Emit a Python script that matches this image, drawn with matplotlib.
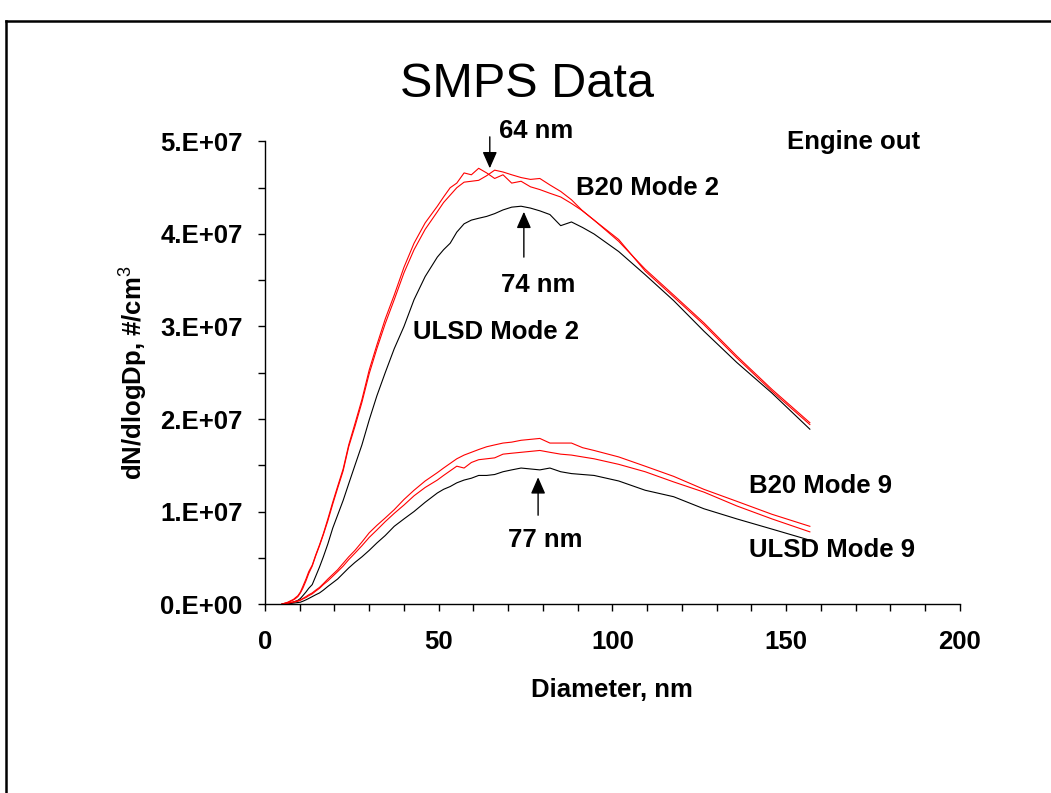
import numpy as np
import matplotlib
matplotlib.use("Agg")
import matplotlib.pyplot as plt
from matplotlib.lines import Line2D
from matplotlib.ticker import MultipleLocator

plt.rcParams['font.family'] = ['Liberation Sans', 'DejaVu Sans']
plt.rcParams['mathtext.fontset'] = 'custom'
plt.rcParams['mathtext.rm'] = 'Liberation Sans'
plt.rcParams['mathtext.bf'] = 'Liberation Sans:bold'

# SMPS channel midpoints, nm
diameter = [4.96, 5.33, 5.73, 6.15, 6.61, 7.09, 7.64, 8.20, 8.82, 9.47,
            10.2, 10.9, 11.8, 12.6, 13.6, 14.6, 15.7, 16.8, 18.1, 19.5,
            20.9, 22.5, 24.1, 25.9, 27.9, 30.0, 32.2, 34.6, 37.2, 40.0,
            42.9, 46.1, 49.6, 51.4, 53.3, 55.2, 57.3, 59.4, 61.5, 63.8,
            66.1, 68.5, 71.0, 73.7, 76.4, 79.1, 82.0, 85.1, 88.2, 91.4,
            94.7, 101.8, 109.4, 117.6, 126.3, 135.8, 145.9, 156.8]

# dN/dlogDp in units of 1e7 #/cm3
b20_m2_a = [0.0, 0.005, 0.01, 0.015, 0.02, 0.03, 0.04, 0.05, 0.07, 0.09,
            0.13, 0.19, 0.27, 0.35, 0.42, 0.53, 0.64, 0.76, 0.92, 1.10,
            1.27, 1.46, 1.72, 1.95, 2.21, 2.53, 2.80, 3.08, 3.34, 3.64,
            3.90, 4.12, 4.30, 4.40, 4.50, 4.55, 4.66, 4.64, 4.71, 4.66,
            4.60, 4.64, 4.55, 4.57, 4.51, 4.48, 4.44, 4.40, 4.33, 4.25,
            4.15, 3.94, 3.60, 3.32, 3.02, 2.66, 2.30, 1.94]
b20_m2_b = [0.0, 0.004, 0.008, 0.012, 0.018, 0.025, 0.035, 0.045, 0.06, 0.08,
            0.12, 0.17, 0.25, 0.33, 0.41, 0.52, 0.63, 0.75, 0.90, 1.08,
            1.25, 1.44, 1.70, 1.92, 2.18, 2.49, 2.76, 3.03, 3.29, 3.58,
            3.83, 4.05, 4.24, 4.34, 4.42, 4.50, 4.56, 4.57, 4.58, 4.63,
            4.69, 4.67, 4.64, 4.61, 4.59, 4.60, 4.53, 4.46, 4.37, 4.25,
            4.15, 3.92, 3.62, 3.34, 3.04, 2.68, 2.32, 1.96]
ulsd_m2 = [0.0, 0.0, 0.0, 0.005, 0.005, 0.01, 0.01, 0.02, 0.03, 0.04,
           0.06, 0.09, 0.13, 0.17, 0.21, 0.30, 0.40, 0.51, 0.65, 0.82,
           0.96, 1.12, 1.30, 1.50, 1.72, 1.99, 2.25, 2.50, 2.76, 3.00,
           3.29, 3.54, 3.75, 3.83, 3.90, 4.02, 4.11, 4.15, 4.17, 4.19,
           4.22, 4.26, 4.29, 4.30, 4.28, 4.25, 4.21, 4.09, 4.13, 4.07,
           4.00, 3.81, 3.56, 3.28, 2.95, 2.61, 2.28, 1.89]
b20_m9_a = [0.0, 0.002, 0.005, 0.008, 0.01, 0.015, 0.02, 0.025, 0.03, 0.035,
            0.045, 0.06, 0.08, 0.10, 0.12, 0.15, 0.18, 0.22, 0.27, 0.32,
            0.37, 0.44, 0.51, 0.58, 0.67, 0.77, 0.85, 0.93, 1.02, 1.13,
            1.23, 1.33, 1.42, 1.47, 1.52, 1.57, 1.61, 1.64, 1.67, 1.70,
            1.72, 1.74, 1.75, 1.77, 1.78, 1.79, 1.74, 1.74, 1.74, 1.69,
            1.66, 1.59, 1.49, 1.38, 1.24, 1.11, 0.97, 0.84]
b20_m9_b = [0.0, 0.002, 0.004, 0.006, 0.008, 0.012, 0.016, 0.02, 0.025, 0.03,
            0.04, 0.055, 0.07, 0.09, 0.11, 0.14, 0.17, 0.21, 0.25, 0.30,
            0.35, 0.41, 0.48, 0.55, 0.63, 0.72, 0.80, 0.89, 0.98, 1.07,
            1.17, 1.26, 1.34, 1.39, 1.44, 1.49, 1.47, 1.53, 1.56, 1.57,
            1.58, 1.62, 1.63, 1.64, 1.65, 1.66, 1.64, 1.62, 1.61, 1.59,
            1.57, 1.51, 1.43, 1.32, 1.21, 1.06, 0.92, 0.78]
ulsd_m9 = [0.0, 0.001, 0.002, 0.003, 0.004, 0.006, 0.008, 0.01, 0.013, 0.016,
           0.02, 0.03, 0.045, 0.06, 0.08, 0.10, 0.12, 0.15, 0.19, 0.23,
           0.27, 0.33, 0.39, 0.45, 0.51, 0.58, 0.66, 0.74, 0.84, 0.92,
           1.00, 1.10, 1.20, 1.24, 1.27, 1.31, 1.34, 1.36, 1.39, 1.39,
           1.40, 1.43, 1.45, 1.47, 1.46, 1.45, 1.47, 1.43, 1.41, 1.40,
           1.39, 1.33, 1.23, 1.16, 1.03, 0.92, 0.81, 0.69]

ytick_values = [0, 1e7, 2e7, 3e7, 4e7, 5e7]
ytick_labels = ['0.E+00', '1.E+07', '2.E+07', '3.E+07', '4.E+07', '5.E+07']

fig = plt.figure(figsize=(10.51, 7.93), dpi=100)
ax = fig.add_axes([0.2521, 0.2383, 0.6613, 0.5833])

d = np.array(diameter)
lw = 0.8
ax.plot(d, np.array(ulsd_m2) * 1e7, color='black', lw=lw)
ax.plot(d, np.array(b20_m2_a) * 1e7, color='#ff0000', lw=lw)
ax.plot(d, np.array(b20_m2_b) * 1e7, color='#ff0000', lw=lw)
ax.plot(d, np.array(ulsd_m9) * 1e7, color='black', lw=lw)
ax.plot(d, np.array(b20_m9_a) * 1e7, color='#ff0000', lw=lw)
ax.plot(d, np.array(b20_m9_b) * 1e7, color='#ff0000', lw=lw)

ax.set_xlim(0, 200)
ax.set_ylim(0, 5e7)
ax.xaxis.set_major_locator(MultipleLocator(50))
ax.xaxis.set_minor_locator(MultipleLocator(10))
ax.set_yticks(ytick_values)
ax.set_yticklabels(ytick_labels)
ax.yaxis.set_minor_locator(MultipleLocator(0.5e7))
for s in ['top', 'right']:
    ax.spines[s].set_visible(False)
for s in ['left', 'bottom']:
    ax.spines[s].set_linewidth(1.0)
ax.tick_params(axis='both', which='both', direction='out', length=5, width=1.0)
ax.tick_params(axis='x', which='major', pad=14, labelsize=18.5)
ax.tick_params(axis='y', which='major', pad=11, labelsize=18.5)
for lab in ax.get_xticklabels() + ax.get_yticklabels():
    lab.set_fontweight('bold')

fig.text(612 / 1051, 1 - 697 / 793, 'Diameter, nm', ha='center', va='baseline',
         fontsize=18.5, fontweight='bold')
fig.text(133 / 1051, 1 - 373 / 793, r'dN/dlogDp, #/cm$^{3}$', ha='center', va='center',
         rotation=90, fontsize=18.5, fontweight='bold')
fig.text(527 / 1051, 1 - 97 / 793, 'SMPS Data', ha='center', va='baseline', fontsize=35)

bold = dict(fontsize=18.5, fontweight='bold', va='center', ha='left')
ax.text(67.3, 5.11e7, '64 nm', **bold)
ax.text(67.8, 3.45e7, '74 nm', **bold)
ax.text(69.9, 0.69e7, '77 nm', **bold)
ax.text(89.5, 4.50e7, 'B20 Mode 2', **bold)
ax.text(42.6, 2.94e7, 'ULSD Mode 2', **bold)
ax.text(139.3, 1.28e7, 'B20 Mode 9', **bold)
ax.text(139.3, 0.58e7, 'ULSD Mode 9', **bold)
ax.text(150.2, 4.99e7, 'Engine out', **bold)

arrow = dict(arrowstyle='-|>,head_length=0.5,head_width=0.22', color='black',
             lw=1.0, mutation_scale=20, shrinkA=0, shrinkB=0)
ax.annotate('', xy=(64.7, 4.71e7), xytext=(64.7, 5.05e7), arrowprops=arrow,
            annotation_clip=False)
ax.annotate('', xy=(74.5, 4.24e7), xytext=(74.5, 3.75e7), arrowprops=arrow)
ax.annotate('', xy=(78.6, 1.37e7), xytext=(78.6, 0.96e7), arrowprops=arrow)

# slide frame
fx = 6 / 1051
fy = 1 - 21 / 793
fig.add_artist(Line2D([fx, fx], [0, fy], transform=fig.transFigure, color='black', lw=1.8))
fig.add_artist(Line2D([fx, 1], [fy, fy], transform=fig.transFigure, color='black', lw=1.8))

fig.savefig('out.png', dpi=100)
